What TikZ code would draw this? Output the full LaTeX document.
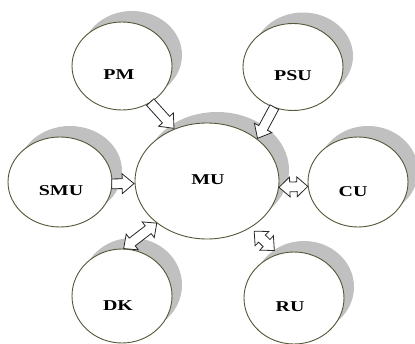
\documentclass[tikz,border=0pt]{standalone}
\usepackage{fontspec}
\usepackage{graphicx}
\newfontfamily\lblfont{Liberation Serif}
\usetikzlibrary{shapes.geometric,shapes.arrows,shadows,calc}
\definecolor{edgecol}{RGB}{85,85,55}
\definecolor{shadecol}{RGB}{192,192,192}
\newcommand\wide[1]{\scalebox{1.33}[1]{#1}}
\tikzset{
  unit/.style={ellipse, draw=edgecol, line width=0.9pt, fill=white, inner sep=0pt,
    general shadow={fill=shadecol, shadow xshift=10pt, shadow yshift=11pt}},
  lbl/.style={font=\lblfont\bfseries\fontsize{15}{15}\selectfont, inner sep=0pt},
  sarrow/.style={single arrow, draw=black!85, fill=white, line width=0.8pt, inner xsep=0pt,
    inner ysep=4.5pt, single arrow head extend=5pt, single arrow tip angle=80, anchor=tip},
  darrow/.style={double arrow, draw=black!85, fill=white, line width=0.8pt, inner xsep=0pt,
    inner ysep=4.5pt, double arrow head extend=5pt, double arrow tip angle=85}
}
\newcommand\sarrowto[2]{\path let \p1=#1, \p2=#2, \n1={atan2(\y2-\y1,\x2-\x1)}, \n2={veclen(\x2-\x1,\y2-\y1)} in node[sarrow, minimum height=\n2, rotate=\n1] at #2 {};}
\newcommand\darrowto[2]{\path let \p1=#1, \p2=#2, \n1={atan2(\y2-\y1,\x2-\x1)}, \n2={veclen(\x2-\x1,\y2-\y1)} in node[darrow, minimum height=\n2, rotate=\n1] at ($#1!0.5!#2$) {};}
\begin{document}
\begin{tikzpicture}[x=1pt, y=-1pt]
\useasboundingbox (0,0) rectangle (415,343);
\node[unit, minimum width=100pt, minimum height=88pt,
  label={[lbl, xshift=-3pt, yshift=-9pt]center:\wide{PM}}] (pm) at (122,66) {};
\node[unit, minimum width=100pt, minimum height=87pt,
  label={[lbl, yshift=-9pt]center:\wide{PSU}}] (psu) at (293,67) {};
\node[unit, minimum width=104pt, minimum height=90pt,
  label={[lbl, xshift=1pt, yshift=-9pt]center:\wide{SMU}}] (smu) at (60,182) {};
\node[unit, minimum width=144pt, minimum height=116pt,
  label={[lbl, xshift=1pt, yshift=1pt]center:\wide{MU}}] (mu) at (207,181) {};
\node[unit, minimum width=100pt, minimum height=90pt,
  label={[lbl, xshift=-5pt, yshift=-10pt]center:\wide{CU}}] (cu) at (358,182) {};
\node[unit, minimum width=100pt, minimum height=94pt,
  label={[lbl, xshift=-4pt, yshift=-10pt]center:\wide{DK}}] (dk) at (122,296) {};
\node[unit, minimum width=100pt, minimum height=92pt,
  label={[lbl, xshift=-4pt, yshift=-9pt]center:\wide{RU}}] (ru) at (294,298) {};
\sarrowto{(pm.-52)}{(mu.122)}
\sarrowto{(psu.245)}{(mu.40)}
\sarrowto{(smu.-2)}{(mu.182)}
\darrowto{(mu.-5)}{(cu.185)}
\darrowto{(mu.220)}{(dk.88)}
\darrowto{($(mu.-47)!5pt!(ru.110)$)}{($(ru.110)!5pt!(mu.-47)$)}
\end{tikzpicture}
\end{document}
